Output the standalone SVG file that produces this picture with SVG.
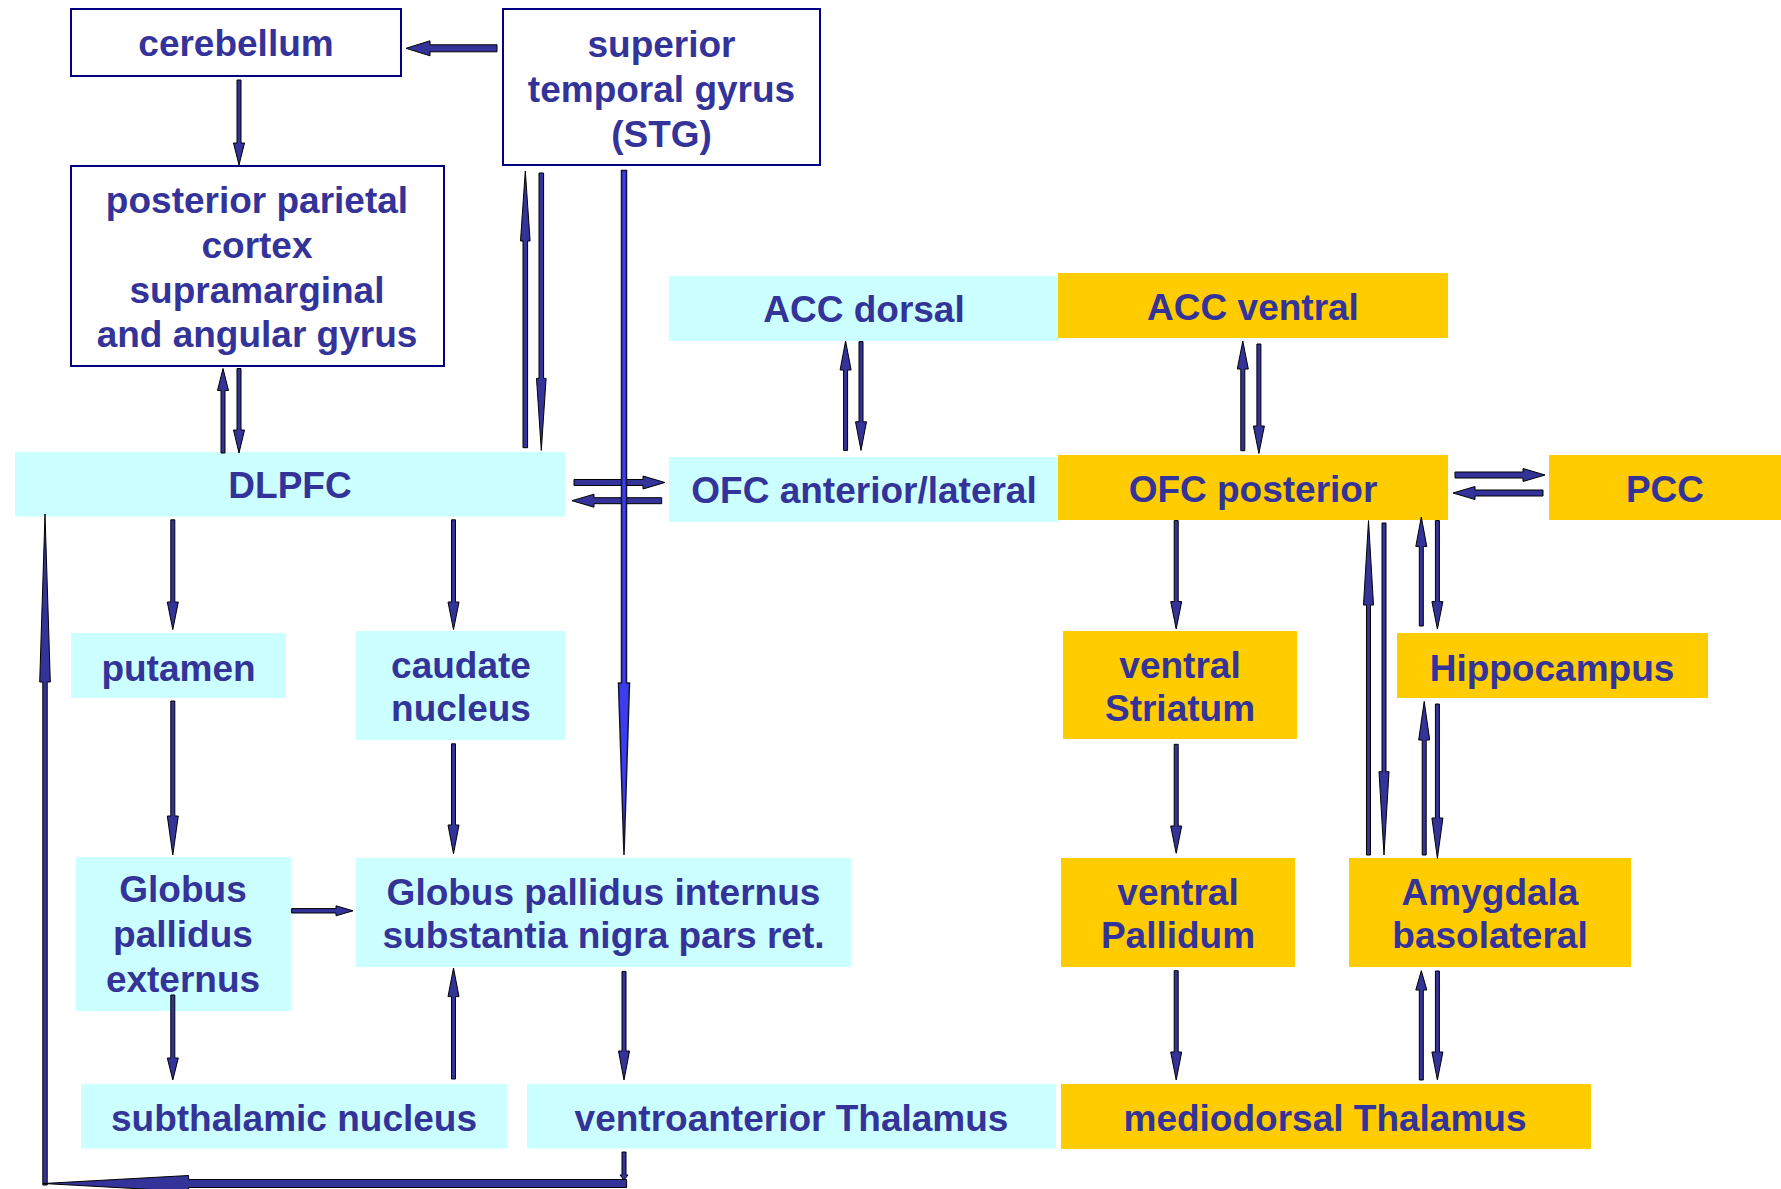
<svg xmlns="http://www.w3.org/2000/svg" width="1781" height="1189" viewBox="0 0 1781 1189">
<style>
  .wb { fill: #ffffff; stroke: #000080; stroke-width: 2; }
  .cy { fill: #ccffff; }
  .go { fill: #ffcc00; }
  text { font-family: "Liberation Sans", Arial, sans-serif; font-weight: bold; font-size: 37px; fill: #333399; text-anchor: middle; }
  .arr { fill: #333399; stroke: #000000; stroke-width: 1; stroke-linejoin: miter; }
  .blu { fill: #3c3cf0; stroke: #15152a; stroke-width: 1.5; }
</style>
<rect width="1781" height="1189" fill="#ffffff"/>

<g id="cerebellum"><rect class="wb" x="71" y="9" width="330" height="67"/><text x="236" y="56">cerebellum</text></g>
<g id="stg"><rect class="wb" x="503" y="9" width="317" height="156"/><text x="661.5" y="57">superior</text><text x="661.5" y="102">temporal gyrus</text><text x="661.5" y="147">(STG)</text></g>
<g id="ppc"><rect class="wb" x="71" y="166" width="373" height="200"/><text x="257" y="213">posterior parietal</text><text x="257" y="257.5">cortex</text><text x="257" y="302.5">supramarginal</text><text x="257" y="347">and angular gyrus</text></g>
<g id="dlpfc"><rect class="cy" x="15" y="452" width="550" height="64.5"/><text x="290" y="497.5">DLPFC</text></g>
<g id="acc-dorsal"><rect class="cy" x="669" y="276" width="390" height="65"/><text x="864" y="322">ACC dorsal</text></g>
<g id="ofc-anterior"><rect class="cy" x="669" y="457" width="390" height="65"/><text x="864" y="503">OFC anterior/lateral</text></g>
<g id="acc-ventral"><rect class="go" x="1058" y="273" width="390" height="65"/><text x="1253" y="320">ACC ventral</text></g>
<g id="ofc-posterior"><rect class="go" x="1058" y="455" width="390" height="65"/><text x="1253" y="501.5">OFC posterior</text></g>
<g id="pcc"><rect class="go" x="1549" y="455" width="232" height="65"/><text x="1665" y="501.5">PCC</text></g>
<g id="putamen"><rect class="cy" x="71" y="633" width="215" height="65"/><text x="178.5" y="681">putamen</text></g>
<g id="caudate"><rect class="cy" x="356" y="631" width="209" height="109"/><text x="461" y="677.7">caudate</text><text x="461" y="721">nucleus</text></g>
<g id="ventral-striatum"><rect class="go" x="1063" y="631" width="234" height="108"/><text x="1180" y="677.7">ventral</text><text x="1180" y="721">Striatum</text></g>
<g id="hippocampus"><rect class="go" x="1397" y="633" width="311" height="65"/><text x="1552" y="681">Hippocampus</text></g>
<g id="gpe"><rect class="cy" x="76" y="857" width="215" height="154"/><text x="183" y="902.3">Globus</text><text x="183" y="947">pallidus</text><text x="183" y="992">externus</text></g>
<g id="gpi"><rect class="cy" x="356" y="858" width="495" height="109"/><text x="603.5" y="905">Globus pallidus internus</text><text x="603.5" y="948">substantia nigra pars ret.</text></g>
<g id="ventral-pallidum"><rect class="go" x="1061" y="858" width="234" height="109"/><text x="1178" y="905">ventral</text><text x="1178" y="948">Pallidum</text></g>
<g id="amygdala"><rect class="go" x="1349" y="858" width="282" height="109"/><text x="1490" y="905">Amygdala</text><text x="1490" y="948">basolateral</text></g>
<g id="subthalamic"><rect class="cy" x="81" y="1084" width="426" height="64.5"/><text x="294" y="1131">subthalamic nucleus</text></g>
<g id="va-thalamus"><rect class="cy" x="527" y="1084" width="529" height="64.5"/><text x="791.5" y="1131">ventroanterior Thalamus</text></g>
<g id="md-thalamus"><rect class="go" x="1061" y="1084" width="530" height="65"/><text x="1325" y="1131">mediodorsal Thalamus</text></g>

<g id="connectors">
  <path class="arr" d="M237,80 H241 V143 H244.5 L239,165 L233.5,143 H237 Z"/>
  <path class="arr" d="M221,453 H225 V390.5 H228.5 L223,368.5 L217.5,390.5 H221 Z"/>
  <path class="arr" d="M237,368.5 H241 V430 H244.5 L239,453 L233.5,430 H237 Z"/>
  <path class="arr" d="M523,447.7 H527.6 V241 H530.1 L525.3,171 L520.5,241 H523 Z"/>
  <path class="arr" d="M539,173 H543.6 V378.4 H546.1 L541.3,450.4 L536.5,378.4 H539 Z"/>
  <path class="arr" d="M843.6,450.4 H847.6 V370 H851.1 L845.6,341 L840.1,370 H843.6 Z"/>
  <path class="arr" d="M859,341.6 H863 V421.8 H866.5 L861,450.4 L855.5,421.8 H859 Z"/>
  <path class="arr" d="M1240.8,450.7 H1244.8 V369 H1248.3 L1242.8,341 L1237.3,369 H1240.8 Z"/>
  <path class="arr" d="M1256.9,344 H1260.9 V426 H1264.4 L1258.9,453.5 L1253.4,426 H1256.9 Z"/>
  <path class="arr" d="M1174.2,520.6 H1178.2 V601.6 H1181.7 L1176.2,629 L1170.7,601.6 H1174.2 Z"/>
  <path class="arr" d="M1366.5,855 H1370.5 V605 H1373.5 L1368.5,520.6 L1363.5,605 H1366.5 Z"/>
  <path class="arr" d="M1382,523 H1386 V771.7 H1389 L1384,855 L1379,771.7 H1382 Z"/>
  <path class="arr" d="M1419.3,626 H1423.3 V546.5 H1426.8 L1421.3,517 L1415.8,546.5 H1419.3 Z"/>
  <path class="arr" d="M1435.4,520.6 H1439.4 V601.6 H1442.9 L1437.4,629 L1431.9,601.6 H1435.4 Z"/>
  <path class="arr" d="M1422.2,855 H1426.2 V740 H1429.7 L1424.2,701.4 L1418.7,740 H1422.2 Z"/>
  <path class="arr" d="M1435.4,704 H1439.4 V818 H1442.9 L1437.4,858.3 L1431.9,818 H1435.4 Z"/>
  <path class="arr" d="M1174.2,744.3 H1178.2 V826 H1181.7 L1176.2,853.3 L1170.7,826 H1174.2 Z"/>
  <path class="arr" d="M1174.2,970.7 H1178.2 V1052 H1181.7 L1176.2,1080 L1170.7,1052 H1174.2 Z"/>
  <path class="arr" d="M1419.3,1080 H1423.3 V990 H1426.8 L1421.3,970.7 L1415.8,990 H1419.3 Z"/>
  <path class="arr" d="M1435.4,971 H1439.4 V1052 H1442.9 L1437.4,1080 L1431.9,1052 H1435.4 Z"/>
  <path class="arr" d="M170.8,519.8 H174.8 V602 H178.3 L172.8,629.6 L167.3,602 H170.8 Z"/>
  <path class="arr" d="M451.5,519.8 H455.5 V602 H459 L453.5,629.6 L448,602 H451.5 Z"/>
  <path class="arr" d="M170.8,701 H174.8 V816 H178.3 L172.8,855 L167.3,816 H170.8 Z"/>
  <path class="arr" d="M451.5,743.8 H455.5 V825 H459 L453.5,853.7 L448,825 H451.5 Z"/>
  <path class="arr" d="M170.8,995 H174.8 V1058 H178.3 L172.8,1080 L167.3,1058 H170.8 Z"/>
  <path class="arr" d="M451.5,1079 H455.5 V996.6 H459 L453.5,968 L448,996.6 H451.5 Z"/>
  <path class="arr" d="M622,971.4 H626 V1051 H629.5 L624,1080 L618.5,1051 H622 Z"/>
  <path class="arr" d="M622,1152 H626 V1175 H628 L624,1180 L620,1175 H622 Z"/>
  <path class="arr" d="M42.8,1185 H47.2 V682 H50.3 L45,514 L39.7,682 H42.8 Z"/>
  <path class="arr" d="M497,44.8 V51.8 H430 V55.8 L406,48.3 L430,40.8 V44.8 Z"/>
  <path class="arr" d="M574,479.5 V485.5 H643 V489 L665,482.5 L643,476 V479.5 Z"/>
  <path class="arr" d="M661.7,497.7 V503.7 H594 V507.2 L572,500.7 L594,494.2 V497.7 Z"/>
  <path class="arr" d="M1455,472 V478 H1523 V481.5 L1545,475 L1523,468.5 V472 Z"/>
  <path class="arr" d="M1543,490 V496 H1475 V499.5 L1453,493 L1475,486.5 V490 Z"/>
  <path class="arr" d="M291.6,908.6 V913 H336 V915.8 L353,910.8 L336,905.8 V908.6 Z"/>
  <path class="arr" d="M626.6,1179.5 V1187.5 H188.6 V1191.5 L43.4,1183.5 L188.6,1175.5 V1179.5 Z"/>
  <path class="blu" d="M621.5,170.5 H626.5 V683 H629.5 L624,855 L618.5,683 H621.5 Z"/>
</g>
</svg>
